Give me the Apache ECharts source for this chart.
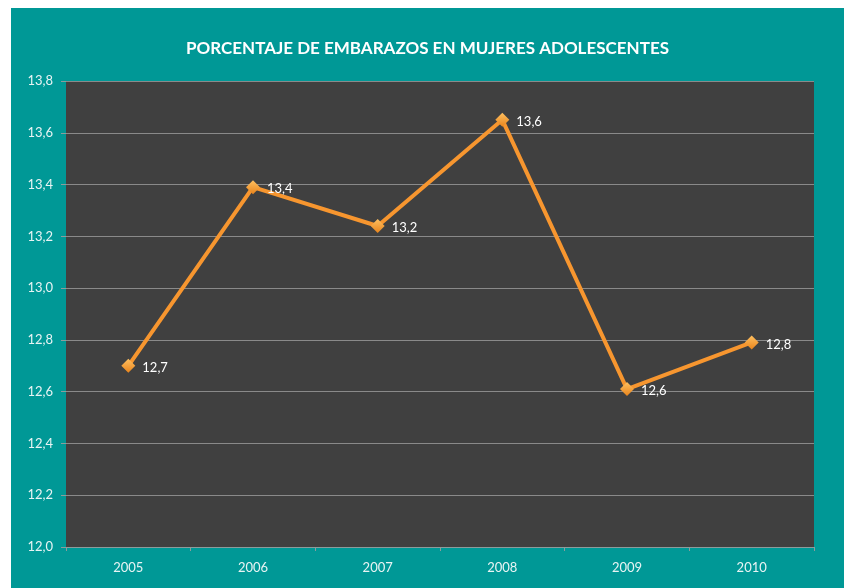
<!DOCTYPE html>
<html>
<head>
<meta charset="utf-8">
<script src="https://cdn.jsdelivr.net/npm/echarts@6/dist/echarts.min.js"></script>
<style>
html, body { margin: 0; padding: 0; background: #ffffff; }
#main {
  position: absolute;
  left: 11px;
  top: 8px;
  width: 833px;
  height: 580px;
  background: #009896;
}
</style>
</head>
<body>
<div id="main"></div>
<script>
// años y porcentajes
const years = ['2005', '2006', '2007', '2008', '2009', '2010'];
const values = [12.70, 13.39, 13.24, 13.65, 12.61, 12.79];
const labels = ['12,7', '13,4', '13,2', '13,6', '12,6', '12,8'];

let chartDom = document.getElementById('main');
let myChart = echarts.init(chartDom);

let option = {
  title: {
    text: 'PORCENTAJE DE EMBARAZOS EN MUJERES ADOLESCENTES',
    left: 'center',
    top: 27,
    textStyle: {
      color: '#ffffff',
      fontFamily: 'Lato',
      fontWeight: 'bold',
      fontSize: 17
    }
  },
  grid: {
    left: 55,
    top: 73,
    right: 30,
    bottom: 41,
    show: true,
    backgroundColor: '#404040',
    borderWidth: 0
  },
  xAxis: {
    type: 'category',
    data: years,
    boundaryGap: true,
    axisLine: { lineStyle: { color: '#8c9c9c', width: 1 } },
    axisTick: { show: true, length: 4, lineStyle: { color: '#8c9c9c' } },
    axisLabel: {
      color: '#e8f4f4',
      fontFamily: 'Lato',
      fontSize: 13,
      margin: 14
    }
  },
  yAxis: {
    type: 'value',
    min: 12,
    max: 13.8,
    interval: 0.2,
    axisLine: { show: false },
    axisTick: { show: true, length: 5, lineStyle: { color: '#8c9c9c' } },
    axisLabel: {
      color: '#e8f4f4',
      fontFamily: 'Lato',
      fontSize: 13,
      margin: 13,
      formatter: function (v) { return v.toFixed(1).replace('.', ','); }
    },
    splitLine: { lineStyle: { color: '#8a8a8a', width: 1 } }
  },
  series: [
    {
      type: 'line',
      data: values,
      symbol: 'diamond',
      symbolSize: 14,
      lineStyle: { color: '#F7962F', width: 4 },
      itemStyle: {
        color: new echarts.graphic.LinearGradient(0, 0, 0, 1, [
          { offset: 0, color: '#FFC060' },
          { offset: 1, color: '#E8841C' }
        ]),
        borderWidth: 0
      },
      label: {
        show: true,
        position: 'right',
        distance: 7,
        offset: [0, 2],
        color: '#ffffff',
        fontFamily: 'Lato',
        fontSize: 13,
        formatter: function (p) { return labels[p.dataIndex]; }
      },
      animation: false
    }
  ]
};

option && myChart.setOption(option);
</script>
</body>
</html>
